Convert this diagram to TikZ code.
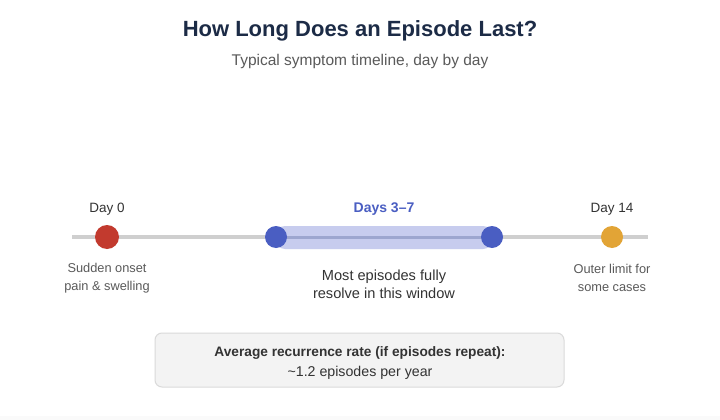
\documentclass[tikz,border=0pt]{standalone}
\usepackage{fontspec}
\setmainfont{Liberation Sans}
\definecolor{titlec}{HTML}{1C2B46}
\definecolor{subc}{HTML}{5A5A5A}
\definecolor{textc}{HTML}{333333}
\definecolor{linec}{HTML}{CFCFCF}
\definecolor{redc}{HTML}{C23A2E}
\definecolor{bluec}{HTML}{4A5EC2}
\definecolor{bandc}{HTML}{C7CCEE}
\definecolor{bandline}{HTML}{9DA6CF}
\definecolor{goldc}{HTML}{E2A436}
\definecolor{boxfill}{HTML}{F3F3F3}
\definecolor{boxdraw}{HTML}{DADADA}
\tikzset{
  daylabel/.style={font=\fontsize{13.5}{15}\selectfont, text=textc, anchor=center},
  note/.style={font=\fontsize{12.8}{18}\selectfont, text=subc, align=center, anchor=center},
  dot/.style={circle, inner sep=0pt, minimum size=#1},
}
\begin{document}
\begin{tikzpicture}[x=1pt,y=-1pt]
\useasboundingbox (0,0) rectangle (720,420);
\fill[white] (0,0) rectangle (720,420);
\fill[black!2] (0,416) rectangle (720,420);
\node[font=\bfseries\fontsize{22}{26}\selectfont, text=titlec] (title) at (360,31) {How Long Does an Episode Last?};
\node[font=\fontsize{15.5}{18}\selectfont, text=subc] (sub) at (360,61) {Typical symptom timeline, day by day};
% timeline
\coordinate (ls) at (72,237);
\coordinate (le) at (648,237);
\draw[linec, line width=4pt] (ls) -- (le);
\fill[bandc, rounded corners=9pt] (276,226) rectangle (492,249);
\draw[bandline, line width=3pt] (276,237) -- (492,237);
\node[dot=24pt, fill=redc] (d0) at (107,237) {};
\node[dot=22pt, fill=bluec] (d3) at (276,237) {};
\node[dot=22pt, fill=bluec] (d7) at (492,237) {};
\node[dot=22pt, fill=goldc] (d14) at (612,237) {};
\node[daylabel] (l0) at (107,209) {Day 0};
\node[daylabel, font=\bfseries\fontsize{14}{15}\selectfont, text=bluec] (l37) at (384,209) {Days 3–7};
\node[daylabel] (l14) at (612,209) {Day 14};
\node[note] (n0) at (107,278) {Sudden onset\\pain \& swelling};
\node[note, font=\fontsize{14.6}{18}\selectfont, text=textc] (n37) at (384,284) {Most episodes fully\\resolve in this window};
\node[note] (n14) at (612,278) {Outer limit for\\some cases};
% box
\draw[boxdraw, fill=boxfill, rounded corners=7pt, line width=1pt] (155,333) rectangle (564,387);
\node[font=\bfseries\fontsize{13.7}{15}\selectfont, text=textc] (b1) at (360,353) {Average recurrence rate (if episodes repeat):};
\node[font=\fontsize{14.2}{15}\selectfont, text=textc] (b2) at (360,373) {\char"007E 1.2 episodes per year};
\end{tikzpicture}
\end{document}
